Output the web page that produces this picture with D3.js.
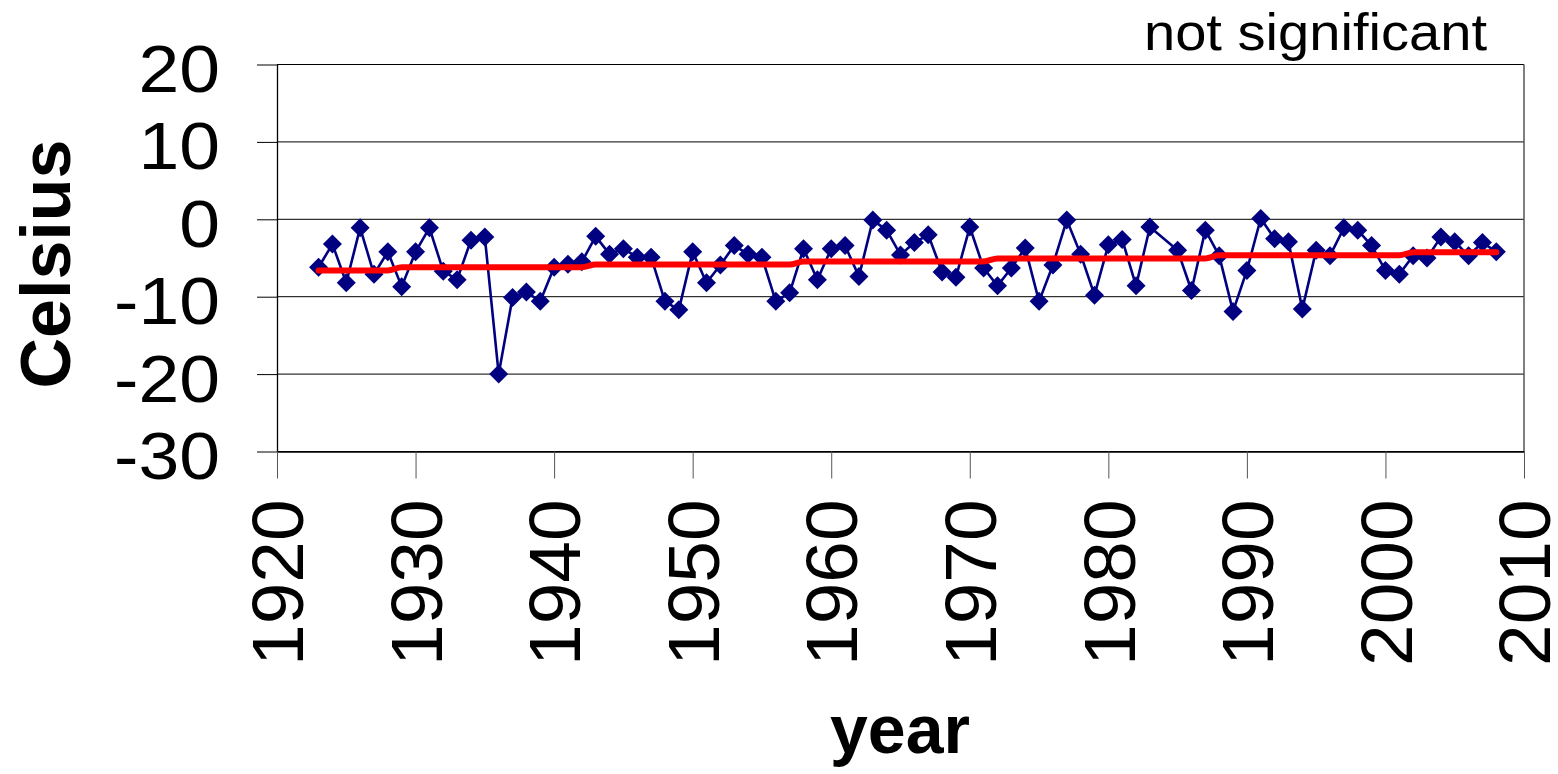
<!DOCTYPE html>
<html>
<head>
<meta charset="utf-8">
<script src="https://cdn.jsdelivr.net/npm/d3@7"></script>
<style>
  html, body { margin: 0; padding: 0; background: #fff; }
  svg { display: block; font-family: "Liberation Sans", Arial, sans-serif; }
</style>
</head>
<body>
<div id="chart"></div>
<script>
// Annual values (1984 has no point)
const years = [
  1923, 1924, 1925, 1926, 1927, 1928, 1929, 1930, 1931, 1932, 1933, 1934, 1935, 1936,
  1937, 1938, 1939, 1940, 1941, 1942, 1943, 1944, 1945, 1946, 1947, 1948, 1949, 1950,
  1951, 1952, 1953, 1954, 1955, 1956, 1957, 1958, 1959, 1960, 1961, 1962, 1963, 1964,
  1965, 1966, 1967, 1968, 1969, 1970, 1971, 1972, 1973, 1974, 1975, 1976, 1977, 1978,
  1979, 1980, 1981, 1982, 1983, 1985, 1986, 1987, 1988, 1989, 1990, 1991, 1992, 1993,
  1994, 1995, 1996, 1997, 1998, 1999, 2000, 2001, 2002, 2003, 2004, 2005, 2006, 2007, 2008
];
const temps = [
  -6.2, -3.2, -8.2, -1.1, -7.1, -4.2, -8.7, -4.2, -1.1, -6.7, -7.8, -2.7, -2.3, -20.0,
  -10.1, -9.4, -10.6, -6.2, -5.8, -5.5, -2.2, -4.5, -3.8, -4.9, -4.9, -10.6, -11.7, -4.2,
  -8.2, -5.9, -3.4, -4.5, -4.9, -10.6, -9.5, -3.8, -7.8, -3.8, -3.4, -7.4, -0.1, -1.4,
  -4.6, -3.0, -2.0, -6.8, -7.5, -1.0, -6.3, -8.6, -6.3, -3.7, -10.6, -5.9, -0.1, -4.5,
  -9.8, -3.3, -2.6, -8.6, -1.0, -4.0, -9.2, -1.4, -4.7, -11.9, -6.6, 0.1, -2.5, -2.9,
  -11.6, -4.0, -4.7, -1.1, -1.4, -3.4, -6.6, -7.1, -4.7, -5.0, -2.3, -2.9, -4.7, -3.0, -4.2
];

// Red trend line (stepped as drawn)
const trendYears  = [1923, 1928, 1929, 1942, 1943, 1957, 1958, 1971, 1972, 1987, 1988, 2001, 2002, 2008];
const trendValues = [-6.6, -6.6, -6.2, -6.2, -5.85, -5.85, -5.45, -5.45, -5.05, -5.05, -4.65, -4.65, -4.25, -4.25];

const yTicks = [20, 10, 0, -10, -20, -30];
const xTicks = [1920, 1930, 1940, 1950, 1960, 1970, 1980, 1990, 2000, 2010];

const note = "not significant";
const yTitle = "Celsius";
const xTitle = "year";

const width = 1558, height = 774;
const plot = { left: 277, right: 1524, top: 64.5, bottom: 451.5 };
const font = "'Liberation Sans', Arial, sans-serif";

const svg = d3.select("#chart").append("svg")
  .attr("width", width)
  .attr("height", height);

const x = d3.scaleLinear().domain([1920, 2010]).range([plot.left, plot.right]);
const y = d3.scaleLinear().domain([-30, 20]).range([plot.bottom, plot.top]);

// gridlines
svg.append("g")
  .selectAll("line")
  .data(yTicks)
  .join("line")
  .attr("x1", plot.left)
  .attr("x2", plot.right)
  .attr("y1", d => y(d))
  .attr("y2", d => y(d))
  .attr("stroke", "#000")
  .attr("stroke-width", 1);

// right border of plot area
svg.append("line")
  .attr("x1", plot.right).attr("x2", plot.right)
  .attr("y1", plot.top).attr("y2", plot.bottom)
  .attr("stroke", "#555")
  .attr("stroke-width", 1.5);

// y axis
const yAxis = svg.append("g")
  .attr("transform", `translate(${plot.left},0)`)
  .call(d3.axisLeft(y).tickValues(yTicks).tickSize(20).tickSizeOuter(0).tickFormat(d => String(d)));

yAxis.select(".domain").attr("stroke", "#000").attr("stroke-width", 1.3);
yAxis.selectAll(".tick line").attr("stroke", "#000");
yAxis.selectAll(".tick text")
  .attr("x", null)
  .attr("dy", "0.41em")
  .attr("text-anchor", "end")
  .attr("transform", "translate(-57,0) scale(1.11,1)")
  .style("font-size", "66px")
  .style("font-family", font)
  .attr("fill", "#000");

// x axis
const xAxis = svg.append("g")
  .attr("transform", `translate(0,${plot.bottom})`)
  .call(d3.axisBottom(x).tickValues(xTicks).tickSize(27).tickSizeOuter(0).tickFormat(d => String(d)));

xAxis.select(".domain").attr("stroke", "#000").attr("stroke-width", 1.3);
xAxis.selectAll(".tick line").attr("stroke", "#555");
xAxis.selectAll(".tick text")
  .attr("y", null)
  .attr("dy", "0.36em")
  .attr("text-anchor", "end")
  .attr("transform", "translate(0,48) rotate(-90) scale(1.1,1.05)")
  .style("font-size", "68px")
  .style("font-family", font)
  .attr("fill", "#000");

// data line
const points = years.map((yr, i) => [yr, temps[i]]);
const line = d3.line().x(d => x(d[0])).y(d => y(d[1]));

svg.append("path")
  .datum(points)
  .attr("d", line)
  .attr("fill", "none")
  .attr("stroke", "#000080")
  .attr("stroke-width", 2.6)
  .attr("stroke-linejoin", "round");

// diamond markers
const r = 9.5;
svg.append("g")
  .selectAll("path")
  .data(points)
  .join("path")
  .attr("transform", d => `translate(${x(d[0])},${y(d[1])})`)
  .attr("d", `M0,${-r}L${r},0L0,${r}L${-r},0Z`)
  .attr("fill", "#000080");

// trend
const trend = trendYears.map((yr, i) => [yr, trendValues[i]]);
svg.append("path")
  .datum(trend)
  .attr("d", line.curve(d3.curveMonotoneX))
  .attr("fill", "none")
  .attr("stroke", "#ff0000")
  .attr("stroke-width", 6)
  .attr("stroke-linecap", "round")
  .attr("stroke-linejoin", "round");

// titles
svg.append("text")
  .attr("transform", "translate(70,264) rotate(-90)")
  .attr("text-anchor", "middle")
  .style("font-size", "70px")
  .style("font-weight", "bold")
  .text(yTitle);

svg.append("text")
  .attr("x", 900)
  .attr("y", 753)
  .attr("text-anchor", "middle")
  .style("font-size", "68px")
  .style("font-weight", "bold")
  .text(xTitle);

svg.append("text")
  .attr("transform", "translate(1487,50) scale(1.1,1)")
  .attr("text-anchor", "end")
  .style("font-size", "51px")
  .text(note);
</script>
</body>
</html>
